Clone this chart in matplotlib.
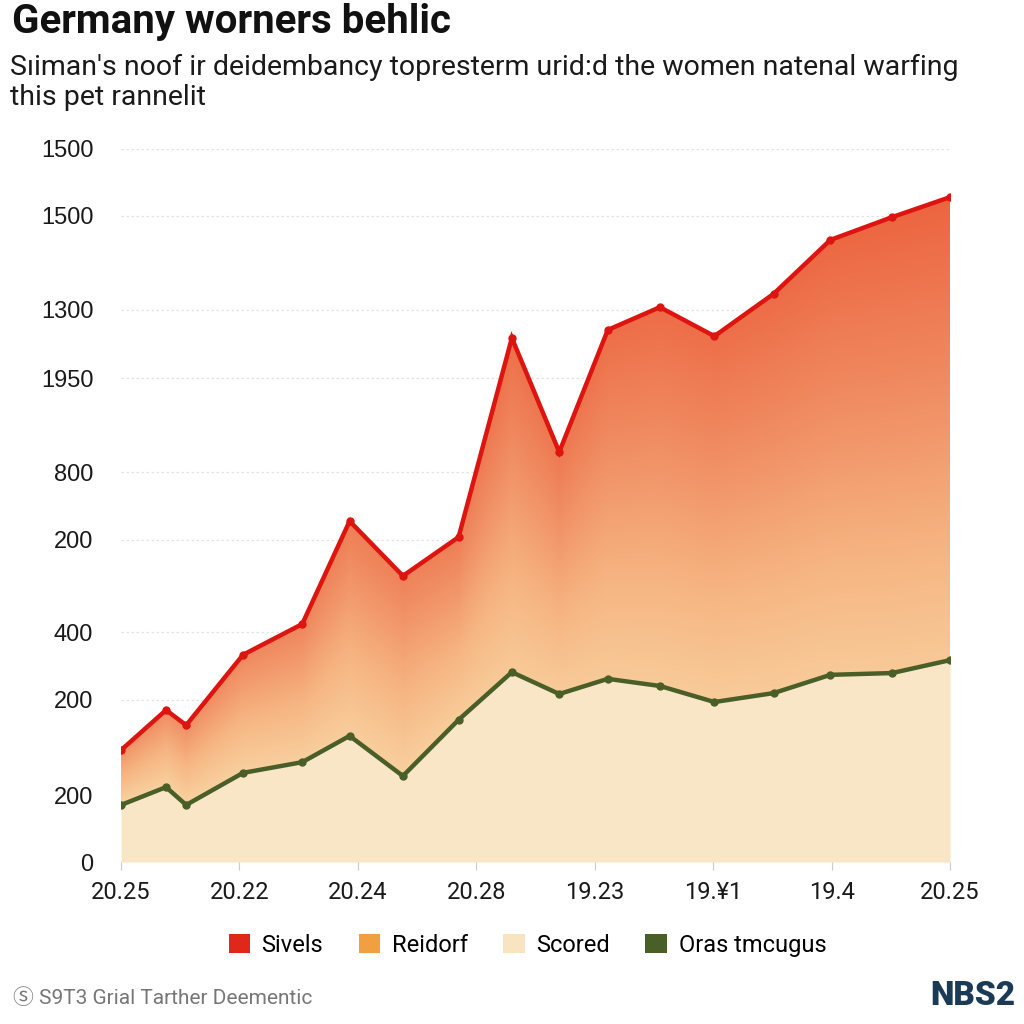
import numpy as np
import matplotlib
matplotlib.use("Agg")
import matplotlib.pyplot as plt
from matplotlib.colors import LinearSegmentedColormap
from matplotlib.patches import Polygon, Patch

# data (x in tick units 0..7)
x_pos = [0.0, 0.38, 0.55, 1.03, 1.53, 1.93, 2.38, 2.85, 3.30, 3.70,
         4.11, 4.55, 5.01, 5.51, 5.99, 6.51, 7.0]
sivels = [251, 341, 307, 465, 534, 765, 642, 729, 1176, 920,
          1194, 1245, 1180, 1275, 1396, 1447, 1492]
oras = [128, 168, 128, 200, 224, 283, 193, 319, 426, 377,
        411, 395, 359, 379, 420, 424, 453]

x_ticks = [0, 1, 2, 3, 4, 5, 6, 7]
x_labels = ["20.25", "20.22", "20.24", "20.28", "19.23", "19.¥1", "19.4", "20.25"]
y_ticks = [0, 150, 364, 516, 723, 875, 1086, 1239, 1450, 1600]
y_labels = ["0", "200", "200", "400", "200", "800", "1950", "1300", "1500", "1500"]
legend_names = ["Sivels", "Reidorf", "Scored", "Oras tmcugus"]

c_red = "#dd1410"
c_orange = "#f0a040"
c_cream = "#f9e6c6"
c_green = "#4a5f27"

fig = plt.figure(figsize=(10.24, 10.24), dpi=100)
ax = fig.add_axes([0.1182, 0.1582, 0.8096, 0.6963])
ax.set_xlim(0, 7)
ax.set_ylim(0, 1600)

xs = np.array(x_pos)
r = np.array(sivels, dtype=float)
g = np.array(oras, dtype=float)

# cream area under the green line
ax.fill_between(xs, 0, g, color=c_cream, lw=0, zorder=1)

# gradient area between the two lines
gx = np.linspace(0, 7, 900)
gy = np.linspace(0, 1600, 900)
X, Y = np.meshgrid(gx, gy)
R = np.interp(X, xs, r)
G = np.interp(X, xs, g)
t_rel = np.clip((Y - G) / (R - G), 0, 1)
t_abs = np.clip(Y / 1500, 0, 1)
s = np.clip(0.55 * t_rel + 0.45 * t_abs, 0, 1)
cmap = LinearSegmentedColormap.from_list("warm", ["#f8d6a4", "#f6b683", "#f08a60", "#ec6440"])
im = ax.imshow(s, extent=[0, 7, 0, 1600], origin="lower", aspect="auto",
               cmap=cmap, vmin=0, vmax=1, zorder=2, interpolation="bilinear")
verts = list(zip(xs, r)) + list(zip(xs[::-1], g[::-1]))
poly = Polygon(verts, closed=True, facecolor="none", edgecolor="none", transform=ax.transData)
ax.add_patch(poly)
im.set_clip_path(poly)

ax.plot(xs, r, color=c_red, lw=3.2, marker="o", ms=5, zorder=4, solid_joinstyle="miter")
ax.plot(xs, g, color=c_green, lw=3.2, marker="o", ms=5, zorder=4)

for yt in y_ticks[1:]:
    ax.axhline(yt, color="#e4e4e4", lw=0.9, ls=(0, (2, 2)), zorder=0)

for sp in ax.spines.values():
    sp.set_visible(False)

ax.set_yticks(y_ticks)
ax.set_yticklabels(y_labels, fontsize=17, family="Liberation Sans", color="#1a1a1a")
ax.tick_params(axis="y", length=0, pad=20)
ax.set_xticks(x_ticks)
ax.set_xticklabels(x_labels, fontsize=17, family="Roboto", color="#1a1a1a")
ax.tick_params(axis="x", length=6, color="#cccccc", pad=8)

# title block
fig.text(0.012, 0.968, "Germany worners behlic", fontsize=29, fontweight="bold",
         family="Roboto", color="#111111", va="baseline")
fig.text(0.010, 0.927, "S\u0131iman's noof ir deidembancy topresterm urid:d the women natenal warfing",
         fontsize=20.5, family="Roboto", color="#1a1a1a", va="baseline")
fig.text(0.010, 0.897, "this pet rannelit", fontsize=20.5, family="Roboto",
         color="#1a1a1a", va="baseline")

# legend
handles = [Patch(facecolor=c) for c in ["#e0281a", c_orange, "#f8e4c0", c_green]]
fig.legend(handles, legend_names, loc="center", bbox_to_anchor=(0.515, 0.077), ncol=4,
           frameon=False, handlelength=0.9, handleheight=0.9,
           handletextpad=0.5, columnspacing=1.5, prop={"family": "Roboto", "size": 17})

# footer
fig.text(0.013, 0.02, "\u24c8 S9T3 Grial Tarther Deementic", fontsize=15,
         family=["Roboto", "Noto Sans CJK SC", "DejaVu Sans"], color="#777777", va="baseline")
fig.text(0.992, 0.019, "NBS2", fontsize=24, fontweight="heavy", family="Roboto",
         color="#1b3a56", ha="right", va="baseline")

fig.savefig("out.png", dpi=100, facecolor="white")
